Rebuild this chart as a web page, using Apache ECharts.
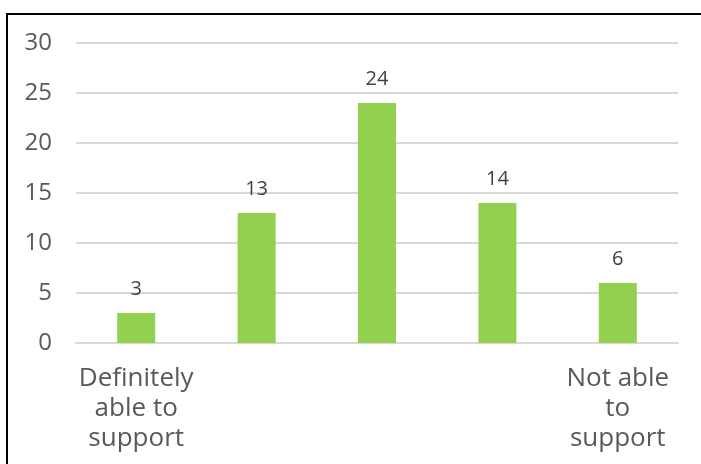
<!DOCTYPE html>
<html>
<head>
<meta charset="utf-8">
<script src="https://cdn.jsdelivr.net/npm/echarts@6/dist/echarts.min.js"></script>
<style>
  html, body { margin: 0; padding: 0; background: #fff; }
  #wrap { position: relative; width: 701px; height: 464px; overflow: hidden; }
  #chart { position: absolute; left: 0; top: 0; width: 701px; height: 464px; }
  #frame { position: absolute; left: 6px; top: 13px; width: 720px; height: 480px;
           border-top: 2px solid #000; border-left: 2px solid #000; pointer-events: none; }
</style>
</head>
<body>
<div id="wrap">
  <div id="chart"></div>
  <div id="frame"></div>
</div>
<script>
// Five-point scale; only the two ends carry a label
const categories = ['Definitely\nable to\nsupport', '', '', '', 'Not able\nto\nsupport'];
const counts = [3, 13, 24, 14, 6];
const yTicks = { min: 0, max: 30, step: 5 };

const chart = echarts.init(document.getElementById('chart'), null, { renderer: 'canvas' });
const font = '"Open Sans", "DejaVu Sans", sans-serif';

chart.setOption({
  animation: false,
  backgroundColor: '#fff',
  grid: { left: 76, right: 23, top: 43, bottom: 121, containLabel: false },
  xAxis: {
    type: 'category',
    data: categories,
    axisLine: { show: true, lineStyle: { color: '#d9d9d9', width: 2 } },
    axisTick: { show: false },
    axisLabel: {
      interval: 0,
      color: '#595959',
      fontFamily: font,
      fontSize: 26,
      lineHeight: 30,
      margin: 21
    }
  },
  yAxis: {
    type: 'value',
    min: yTicks.min,
    max: yTicks.max,
    interval: yTicks.step,
    axisLine: { show: false },
    axisTick: { show: false },
    splitLine: { lineStyle: { color: '#d9d9d9', width: 2 } },
    axisLabel: {
      color: '#595959',
      fontFamily: font,
      fontSize: 24,
      margin: 24
    }
  },
  series: [{
    type: 'bar',
    data: counts,
    barWidth: 38,
    itemStyle: { color: '#92d050' },
    label: {
      show: true,
      position: 'top',
      distance: 14,
      color: '#404040',
      fontFamily: font,
      fontSize: 20
    }
  }]
});
</script>
</body>
</html>
